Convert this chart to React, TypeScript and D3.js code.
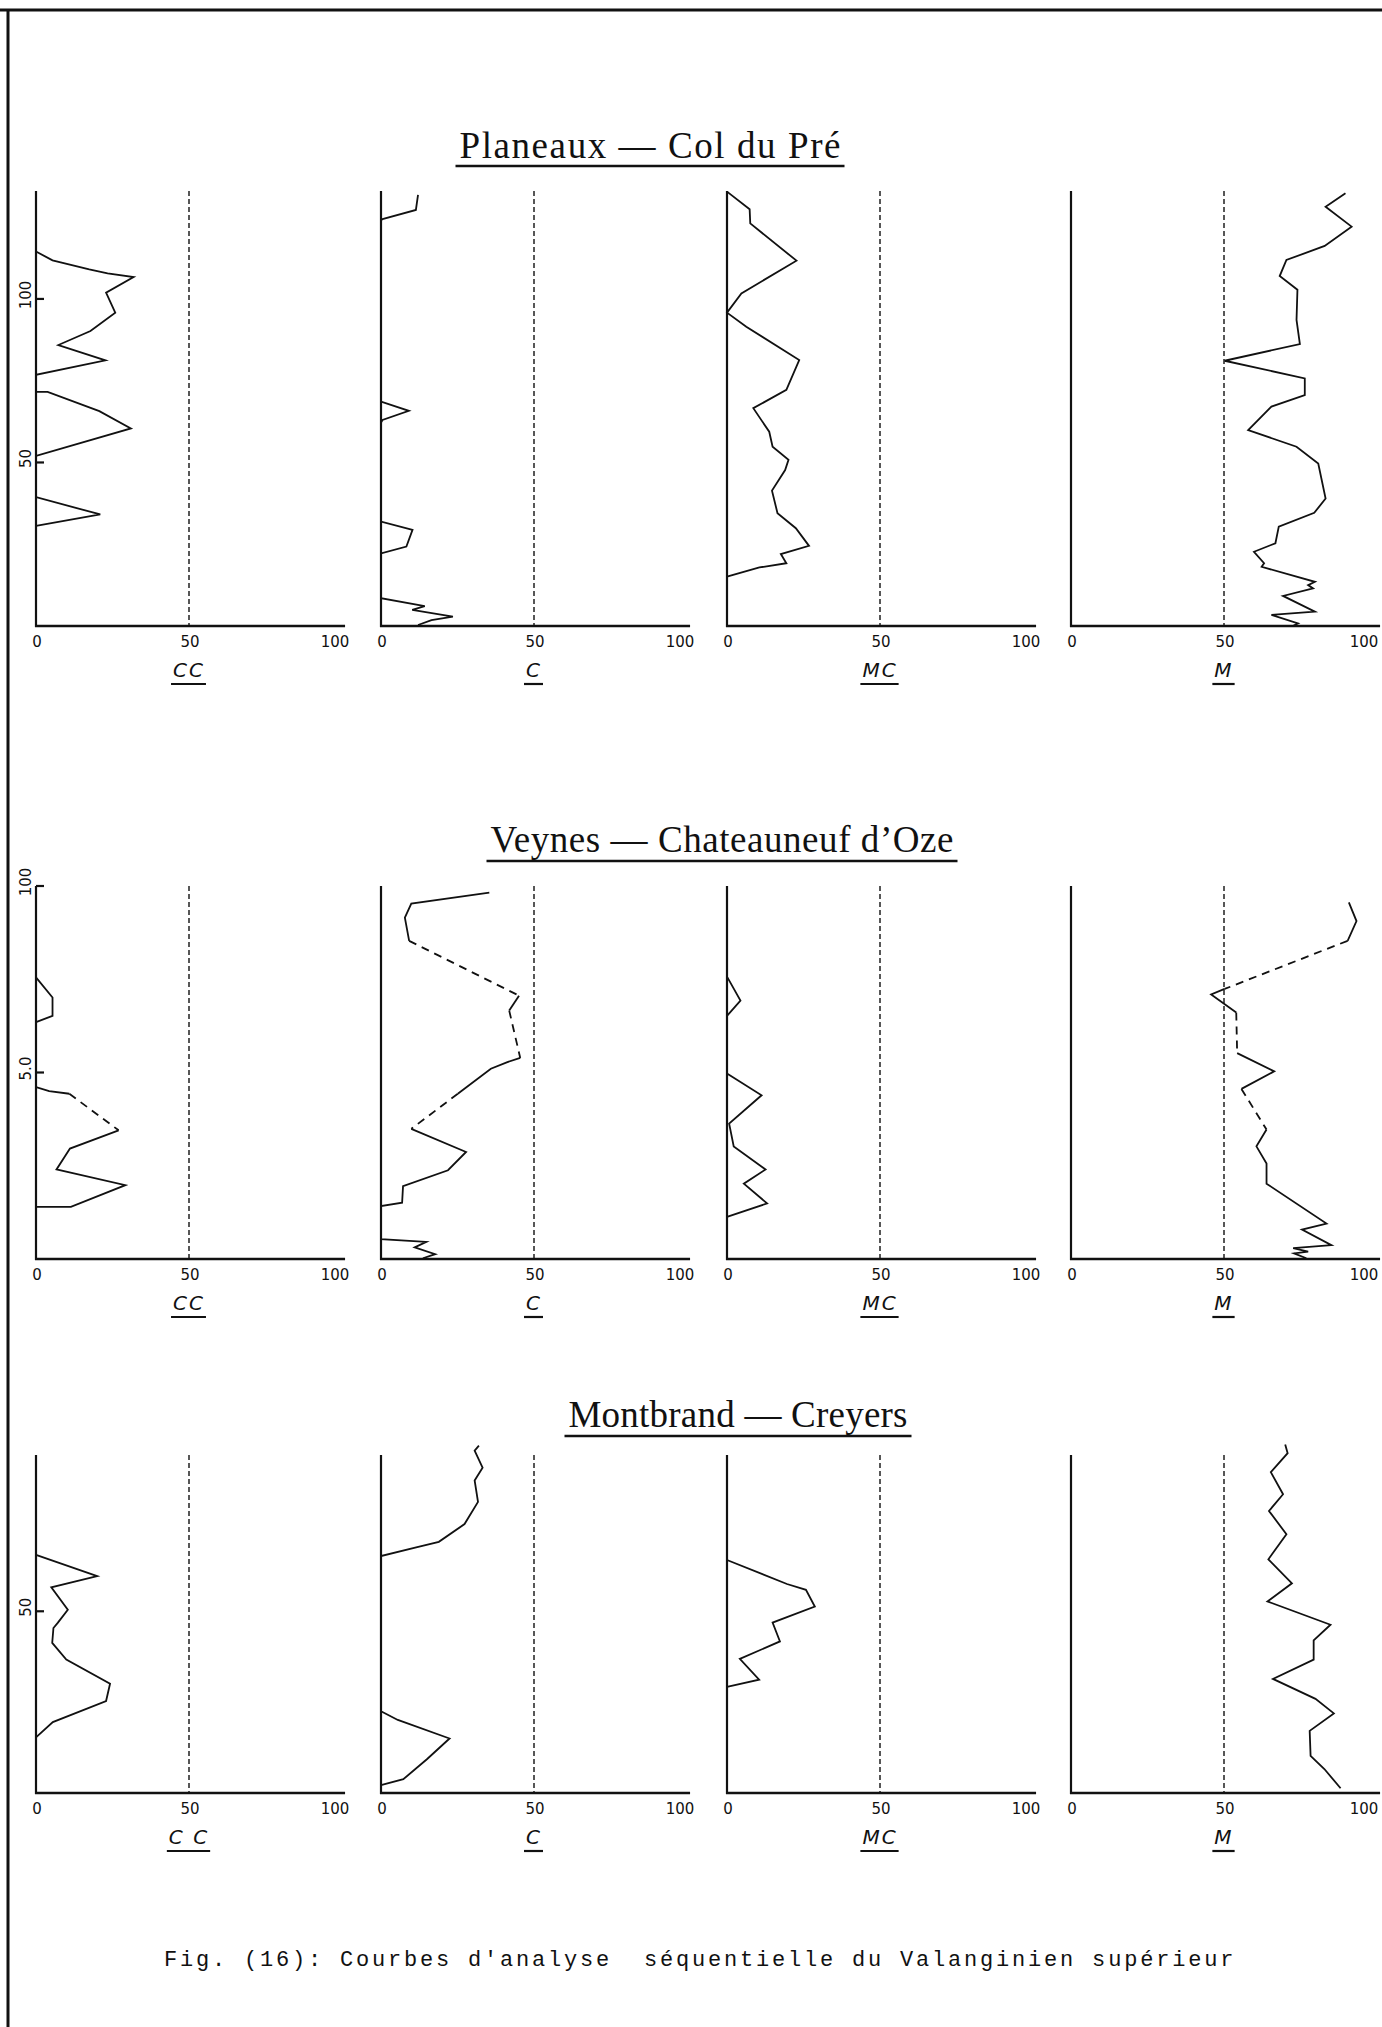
import React, { useEffect, useRef } from "react";
import * as d3 from "d3";

// [depth, percent] ; a third value of 1 marks an uncertain (dashed) stretch leading to that sample
type Sample = number[];

const SITES = ["Planeaux — Col du Pré", "Veynes — Chateauneuf d’Oze", "Montbrand — Creyers"];
const FRACTIONS = ["CC", "C", "MC", "M"];
const FRACTION_LABELS = [
	["CC", "C", "MC", "M"],
	["CC", "C", "MC", "M"],
	["C C", "C", "MC", "M"],
];
const X_TICKS = [0, 50, 100];
const THRESHOLD = 50;
const DEPTH_MAX = [133, 100, 93];
const DEPTH_TICKS = [[100, 50], [100, 50], [50]];
const DEPTH_TICK_LABELS = [["100", "50"], ["100", "5.0"], ["50"]];
const CAPTION = "Fig. (16): Courbes d'analyse  séquentielle du Valanginien supérieur";

// Planeaux - Col du Pré
const planeauxCC: Sample[] = [
	[114.5, 0], [111.8, 5.4], [109, 17.4], [107.8, 23.4], [106.7, 31.9], [101.9, 22.9], [95.8, 25.9],
	[90.2, 17.8], [85.9, 7.3], [81.2, 22.7], [76.8, 0], [71.6, 0], [71.6, 3.8], [65.7, 20.7], [60.4, 31],
	[52, 0], [39.4, 0], [34.1, 21], [30.6, 0],
];
const planeauxC: Sample[] = [
	[131.8, 12.1], [127.2, 11.4], [124.4, 0.5], [124, 0], [68.6, 0], [65.8, 9.1], [63, 0.5], [62.2, 0],
	[31.9, 0], [29.4, 10.3], [24.3, 8.3], [22.2, 0], [8.5, 0], [6.1, 14.3], [4.9, 10.2], [2.9, 23.5],
	[1.8, 16.5], [0.3, 12.1],
];
const planeauxMC: Sample[] = [
	[132.8, 0], [127.4, 7.4], [123.1, 7.6], [111.7, 22.7], [101.7, 4.7], [95.8, 0], [91.5, 6.3],
	[81.3, 23.6], [72.2, 19.4], [66.6, 8.6], [59.4, 13.8], [54.8, 14.9], [50.8, 20.1], [47.7, 19],
	[41.4, 14.7], [34.5, 16.5], [29.9, 22.5], [24.5, 26.8], [22, 17.6], [19.2, 19.4], [17.9, 10.6], [15.1, 0],
];
const planeauxM: Sample[] = [
	[132.3, 89.7], [128.2, 83.2], [122.1, 91.7], [116.2, 82.9], [111.9, 70.4], [107, 68.2], [102.8, 74],
	[93.6, 73.7], [86.2, 74.8], [81.1, 50.2], [75.7, 76.4], [70.6, 76.4], [67.1, 65.5], [59.9, 57.9],
	[54.8, 73.7], [49.7, 80.8], [39, 83.2], [34.6, 79.5], [30.4, 67.9], [25.3, 66.8], [22.7, 59.8],
	[19.2, 63.1], [18.1, 62.3], [13.5, 79.7], [12.5, 77.5], [11.5, 79.1], [9.2, 69.3], [4.4, 79.7],
	[3.4, 65.5], [0.8, 74.2], [0, 72.5],
];

// Veynes - Chateauneuf d'Oze
const veynesCC: Sample[] = [
	[75.5, 0], [70.1, 5.4], [65.2, 5.4], [63.5, 0], [46.1, 0], [45, 4.3], [44.3, 10.9], [34.5, 27, 1],
	[29.6, 11.1], [24, 6.7], [19.8, 29.2], [14, 11.4], [14, 0],
];
const veynesC: Sample[] = [
	[98.2, 35.4], [95.3, 9.9], [91.5, 7.8], [85.3, 9.2], [70.6, 45.1, 1], [66.6, 41.9], [53.9, 45.5, 1],
	[52.8, 41.3], [51, 35.9], [44.3, 25.1], [34.9, 9.9, 1], [28.7, 27.8], [23.8, 21.9], [19.5, 7.2],
	[15.1, 6.9], [14.2, 0], [5.3, 0], [4.6, 14.8], [3.1, 11], [1.3, 17.7], [0.2, 13.7],
];
const veynesMC: Sample[] = [
	[75.7, 0], [69.3, 4.4], [65.2, 0], [49.7, 0], [43.9, 11.3], [36.3, 0.7], [30.2, 2.2], [24, 12.6],
	[20.2, 5.5], [14.9, 13.1], [11.3, 0],
];
const veynesM: Sample[] = [
	[95.6, 90.8], [90.6, 93.3], [85.3, 90.4], [72.4, 50.2, 1], [70.9, 45.8], [66.1, 54], [55.2, 54.3, 1],
	[50.3, 66.4], [45.6, 55.7], [34.7, 63.9, 1], [30.2, 60.6], [25.6, 63.9], [20.2, 63.9], [9.5, 83.5],
	[7.9, 75.5], [3.7, 85.1], [2.9, 72.6], [2, 77.5], [1.5, 72.9], [0.2, 76.9],
];

// Montbrand - Creyers
const montbrandCC: Sample[] = [
	[65.5, 0], [59.7, 20], [56.6, 5], [50.4, 10.4], [46.8, 7.1], [45.4, 5.7], [41.3, 5.3], [36.7, 9.9],
	[30.1, 24.2], [25.3, 22.9], [19.5, 5.5], [15.3, 0],
];
const montbrandC: Sample[] = [
	[95.6, 32], [94.2, 30.6], [89.5, 33.2], [86, 30.6], [80.1, 31.7], [74, 27.3], [69.1, 18.9], [67.6, 11.5],
	[65.2, 0], [22.5, 0], [20.1, 5.5], [15, 22.4], [9.3, 15], [3.8, 7.3], [2.2, 0],
];
const montbrandMC: Sample[] = [
	[64.1, 0], [57.5, 19.6], [55.9, 25.8], [51.3, 28.7], [46.9, 14.9], [41.7, 17.3], [36.9, 4.2],
	[31.2, 10.5], [29.2, 0],
];
const montbrandM: Sample[] = [
	[95.9, 70], [93.5, 70.8], [88.3, 65.3], [82.2, 69.3], [77.6, 64.7], [71.2, 70.4], [64.3, 64.5],
	[57.7, 72.2], [52.7, 64.2], [46.3, 84.8], [42, 79.3], [36.7, 79.3], [31.4, 66], [25.9, 79.9],
	[21.9, 85.9], [17.1, 78], [10.2, 78.3], [6.6, 82.8], [1.3, 88.1],
];

const SERIES = [
	[planeauxCC, planeauxC, planeauxMC, planeauxM],
	[veynesCC, veynesC, veynesMC, veynesM],
	[montbrandCC, montbrandC, montbrandMC, montbrandM],
];

// layout
const W = 1382;
const H = 2027;
const COL_X = [36, 381, 727, 1071];
const PANEL_W = 306;
const ROWS = [
	{ top: 191, bottom: 626, title: { cx: 650, y: 158, uy: 166, w: 381 } },
	{ top: 886, bottom: 1259, title: { cx: 722, y: 852, uy: 861, w: 463 } },
	{ top: 1455, bottom: 1793, title: { cx: 738, y: 1427, uy: 1436, w: 339 } },
];
const INK = "#111";

export default function App() {
	const svgRef = useRef<SVGSVGElement | null>(null);

	useEffect(() => {
		if (!svgRef.current) return;
		const svg = d3.select(svgRef.current);
		svg.selectAll("*").remove();

		svg.append("rect").attr("width", W).attr("height", H).attr("fill", "#fff");

		// page frame (top + left edge of the scanned sheet)
		svg.append("line").attr("x1", 0).attr("x2", W).attr("y1", 10).attr("y2", 10).attr("stroke", INK).attr("stroke-width", 3);
		svg.append("line").attr("x1", 8).attr("x2", 8).attr("y1", 10).attr("y2", H).attr("stroke", INK).attr("stroke-width", 3);

		SITES.forEach((site, r) => {
			const row = ROWS[r];
			const y = d3.scaleLinear().domain([0, DEPTH_MAX[r]]).range([row.bottom, row.top]);

			// site title, underlined
			svg
				.append("text")
				.attr("x", row.title.cx)
				.attr("y", row.title.y)
				.attr("text-anchor", "middle")
				.attr("font-family", "'Liberation Serif', 'DejaVu Serif', serif")
				.attr("font-size", 37)
				.attr("textLength", row.title.w)
				.attr("lengthAdjust", "spacing")
				.attr("fill", INK)
				.text(site);
			svg
				.append("line")
				.attr("x1", row.title.cx - row.title.w / 2 - 4)
				.attr("x2", row.title.cx + row.title.w / 2 + 4)
				.attr("y1", row.title.uy)
				.attr("y2", row.title.uy)
				.attr("stroke", INK)
				.attr("stroke-width", 2.6);

			FRACTIONS.forEach((frac, c) => {
				const x = d3.scaleLinear().domain([0, 100]).range([COL_X[c], COL_X[c] + PANEL_W]);
				const g = svg.append("g").attr("class", `panel-${r}-${frac}`);

				// axes
				g.append("line")
					.attr("x1", x(0)).attr("x2", x(0))
					.attr("y1", y(DEPTH_MAX[r])).attr("y2", y(0) + 1)
					.attr("stroke", INK).attr("stroke-width", 2.2);
				g.append("line")
					.attr("x1", x(0) - 1).attr("x2", x(101))
					.attr("y1", y(0)).attr("y2", y(0))
					.attr("stroke", INK).attr("stroke-width", 2.4);

				// 50% reference
				g.append("line")
					.attr("x1", x(THRESHOLD)).attr("x2", x(THRESHOLD))
					.attr("y1", y(DEPTH_MAX[r])).attr("y2", y(0))
					.attr("stroke", INK).attr("stroke-width", 1.4)
					.attr("stroke-dasharray", "5,3");

				// x tick labels
				g.selectAll("text.xt")
					.data(X_TICKS)
					.enter()
					.append("text")
					.attr("class", "xt")
					.attr("x", (d) => (d === 100 ? Math.min(x(d) - 7, W - 18) : x(d) + 1))
					.attr("y", y(0) + 21)
					.attr("text-anchor", "middle")
					.attr("font-family", "'DejaVu Sans', sans-serif")
					.attr("font-size", 15)
					.attr("fill", INK)
					.text((d) => String(d));

				// fraction label, underlined
				const lab = g
					.append("text")
					.attr("x", x(THRESHOLD))
					.attr("y", y(0) + 51)
					.attr("text-anchor", "middle")
					.attr("font-family", "'DejaVu Sans', sans-serif")
					.attr("font-style", "italic")
					.attr("font-size", 20)
					.attr("letter-spacing", 2)
					.attr("fill", INK)
					.style("white-space", "pre")
					.text(FRACTION_LABELS[r][c]);
				const lw = (lab.node() as SVGTextElement).getComputedTextLength();
				g.append("line")
					.attr("x1", x(THRESHOLD) - lw / 2 - 2)
					.attr("x2", x(THRESHOLD) + lw / 2 + 1)
					.attr("y1", y(0) + 58)
					.attr("y2", y(0) + 58)
					.attr("stroke", INK)
					.attr("stroke-width", 2.2);

				// depth ticks only on the first column
				if (c === 0) {
					DEPTH_TICKS[r].forEach((t, i) => {
						g.append("line")
							.attr("x1", x(0)).attr("x2", x(0) + 8)
							.attr("y1", y(t)).attr("y2", y(t))
							.attr("stroke", INK).attr("stroke-width", 2.2);
						g.append("text")
							.attr("transform", `translate(${x(0) - 10},${y(t) - 4}) rotate(-90)`)
							.attr("text-anchor", "middle")
							.attr("dominant-baseline", "central")
							.attr("font-family", "'DejaVu Sans', sans-serif")
							.attr("font-size", 15)
							.attr("fill", INK)
							.text(DEPTH_TICK_LABELS[r][i]);
					});
				}

				// the curve, split into solid and dashed runs
				const pts = SERIES[r][c];
				const line = d3
					.line<Sample>()
					.x((d) => x(d[1]))
					.y((d) => y(d[0]));
				let run: Sample[] = [pts[0]];
				let dashed = !!pts[1]?.[2];
				const flush = () => {
					if (run.length < 2) return;
					g.append("path")
						.attr("d", line(run) ?? "")
						.attr("fill", "none")
						.attr("stroke", INK)
						.attr("stroke-width", 1.8)
						.attr("stroke-linejoin", "miter")
						.attr("stroke-dasharray", dashed ? "8,6" : null);
				};
				for (let i = 1; i < pts.length; i++) {
					const d = !!pts[i][2];
					if (d !== dashed) {
						flush();
						run = [pts[i - 1]];
						dashed = d;
					}
					run.push(pts[i]);
				}
				flush();
			});
		});

		// caption
		svg
			.append("text")
			.attr("x", 164)
			.attr("y", 1966)
			.attr("font-family", "'Liberation Mono', 'DejaVu Sans Mono', monospace")
			.attr("font-size", 22)
			.attr("letter-spacing", 2.8)
			.attr("fill", INK)
			.style("white-space", "pre")
			.text(CAPTION);
	}, []);

	return (
		<svg
			ref={svgRef}
			width={W}
			height={H}
			viewBox={`0 0 ${W} ${H}`}
			style={{ position: "absolute", left: 0, top: 0 }}
		/>
	);
}
